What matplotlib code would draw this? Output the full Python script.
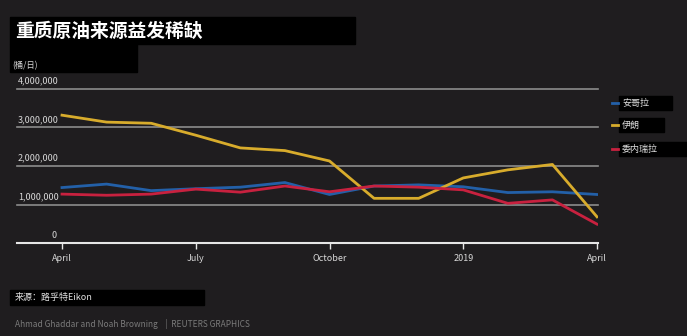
import matplotlib
matplotlib.use("Agg")
import matplotlib.pyplot as plt
from matplotlib.patches import Rectangle
from matplotlib.transforms import blended_transform_factory

plt.rcParams['font.family'] = ['Noto Sans CJK SC', 'DejaVu Sans']

months = list(range(13))  # April 2018 .. April 2019
tick_pos = [0, 3, 6, 9, 12]
tick_labels = ["April", "July", "October", "2019", "April"]
y_ticks = [0, 1_000_000, 2_000_000, 3_000_000, 4_000_000]
y_tick_labels = ["0", "1,000,000", "2,000,000", "3,000,000", "4,000,000"]

angola = [1.44e6, 1.53e6, 1.36e6, 1.41e6, 1.45e6, 1.57e6, 1.26e6,
          1.48e6, 1.51e6, 1.46e6, 1.31e6, 1.33e6, 1.26e6]
iran = [3.32e6, 3.14e6, 3.11e6, 2.80e6, 2.47e6, 2.40e6, 2.13e6,
        1.16e6, 1.16e6, 1.69e6, 1.90e6, 2.04e6, 0.68e6]
venezuela = [1.27e6, 1.24e6, 1.27e6, 1.40e6, 1.32e6, 1.48e6, 1.33e6,
             1.48e6, 1.45e6, 1.38e6, 1.03e6, 1.12e6, 0.49e6]

series_names = ["安哥拉", "伊朗", "委内瑞拉"]
series = [angola, iran, venezuela]
colors = ["#2360a8", "#d8ac2c", "#c8213f"]

W, H = 687, 336
bg = "#1f1d1f"
fig = plt.figure(figsize=(W / 100, H / 100), dpi=100, facecolor=bg)

# axes box in pixels
ax_l, ax_r, ax_top, ax_bot = 17, 598, 89, 243
ax = fig.add_axes([ax_l / W, 1 - ax_bot / H, (ax_r - ax_l) / W, (ax_bot - ax_top) / H])
ax.set_facecolor(bg)
px_per_month = (597 - 62) / 12
ax.set_xlim(-(62 - ax_l) / px_per_month, 12 + (ax_r - 597) / px_per_month)
ax.set_ylim(0, 4_000_000)
for s in ax.spines.values():
    s.set_visible(False)

for yv in y_ticks[1:]:
    ax.axhline(yv, color="#8c8c8c", lw=1.2, zorder=1, clip_on=False)
ax.axhline(0, color="#e6e6e6", lw=1.5, zorder=1, clip_on=False)

# value labels sit just above their gridlines, flush with the left edge
lab_tr = blended_transform_factory(fig.transFigure, ax.transData)
for yv, lab in zip(y_ticks, y_tick_labels):
    if yv == 0:
        ax.text(57 / W, yv + 90_000, lab, color="#d8d8d8", fontsize=6.5,
                ha="right", va="bottom", transform=lab_tr)
    else:
        ax.text(18 / W, yv + 90_000, lab, color="#d8d8d8", fontsize=6.5,
                ha="left", va="bottom", transform=lab_tr)

ax.set_yticks([])
ax.set_xticks(tick_pos)
ax.set_xticklabels(tick_labels, color="#d8d8d8", fontsize=6.5)
ax.tick_params(axis="x", colors="#e6e6e6", length=4, width=1, pad=4,
               labelcolor="#d8d8d8")

for vals, c in zip(series, colors):
    ax.plot(months, vals, color=c, lw=2, zorder=3, solid_joinstyle="round")

# title and unit boxes
fig.patches.append(Rectangle((10 / W, 1 - 44 / H), 345 / W, 27 / H,
                             transform=fig.transFigure, color="black", zorder=0))
fig.text(15 / W, 1 - 31 / H, "重质原油来源益发稀缺", color="white",
         fontsize=13.5, fontweight="bold", va="center", ha="left")
fig.patches.append(Rectangle((10 / W, 1 - 72 / H), 127 / W, 28 / H,
                             transform=fig.transFigure, color="black", zorder=0))
fig.text(12 / W, 1 - 66 / H, "(桶/日)", color="#d8d8d8", fontsize=6,
         va="center", ha="left")

# legend
leg_y = [103, 125, 149]
leg_w = [53, 45, 70]
for name, c, y, w in zip(series_names, colors, leg_y, leg_w):
    fig.patches.append(Rectangle((619 / W, 1 - (y + 7) / H), w / W, 14 / H,
                                 transform=fig.transFigure, color="black", zorder=0))
    fig.add_artist(plt.Line2D([612 / W, 618 / W], [1 - y / H, 1 - y / H],
                              color=c, lw=2, transform=fig.transFigure))
    fig.text(622 / W, 1 - y / H, name, color="#e0e0e0", fontsize=6.5,
             va="center", ha="left")

# source and credit
fig.patches.append(Rectangle((10 / W, 1 - 305 / H), 194 / W, 15 / H,
                             transform=fig.transFigure, color="black", zorder=0))
fig.text(15 / W, 1 - 297.5 / H, "来源：路孚特Eikon", color="#e0e0e0", fontsize=6.5,
         va="center", ha="left")
fig.text(15 / W, 1 - 324 / H, "Ahmad Ghaddar and Noah Browning    |  REUTERS GRAPHICS",
         color="#7a7a7a", fontsize=6, va="center", ha="left")

fig.savefig("out.png", dpi=100, facecolor=bg)
